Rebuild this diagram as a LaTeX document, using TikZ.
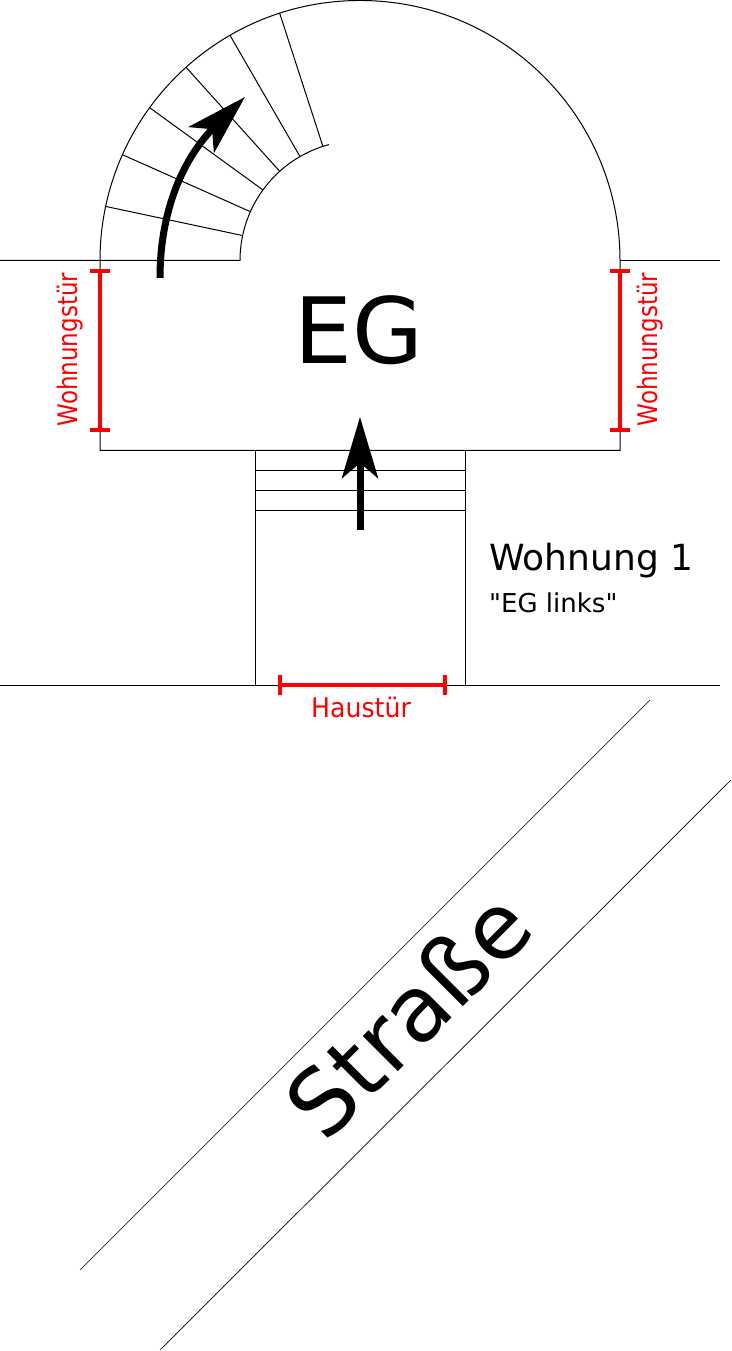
\documentclass[tikz,border=0pt]{standalone}
\usepackage{fontspec}
\setmainfont{DejaVu Sans}
\newfontfamily\geradefont{DejaVu Sans}
\usetikzlibrary{arrows.meta,calc}

\tikzset{
	wall/.style={line width=1pt,black},
	maszlinie/.style={line width=4pt,red,{Bar[width=20pt,line width=4pt]}-{Bar[width=20pt,line width=4pt]}},
	laufpfeil/.style={line width=7pt,black,-{Stealth[length=61pt,width=36pt,inset=15pt]}},
	masztext/.style={red,inner sep=0pt,font=\fontsize{23}{23}\selectfont},
	beschriftung/.style={black,inner sep=0pt}
}

\begin{document}
\begin{tikzpicture}[x=1pt,y=1pt]
		\useasboundingbox (0,0) rectangle (731,1351);
		
		% treppenhaus
		\coordinate (mitte) at (360,1090.5);
		\draw[wall] (0,1090.5) -- (240,1090.5) arc[start angle=180,end angle=105,radius=120pt];
		\draw[wall] (100,900.5) -- (100,1090.5) arc[start angle=180,end angle=0,radius=260pt] -- (620,900.5) -- cycle;
		\draw[wall] (620,1090.5) -- (720,1090.5);
		\foreach \a in {12,24,...,72}{
			\draw[wall] ($(mitte)+(180-\a:120)$) -- ($(mitte)+(180-\a:260)$);
		}
		
		% eingang
		\draw[wall] (255,900.5) -- (255,665.5);
		\draw[wall] (465,900.5) -- (465,665.5);
		\foreach \y in {880.5,860.5,840.5}{
			\draw[wall] (255,\y) -- (465,\y);
		}
		\draw[wall] (0,665.5) -- (720,665.5);
		
		% strasse
		\draw[line width=0.7pt] (80,81) -- (650,651);
		\draw[line width=0.7pt] (160,1) -- (731,571);
		
		\draw[laufpfeil] (160,1073) .. controls (160,1150) and (190,1200) .. (245,1254);
		\draw[laufpfeil] (360,821) -- (360,934);
		
		\draw[maszlinie] (100,1082) -- (100,919);
		\draw[maszlinie] (620,1082) -- (620,919);
		\draw[maszlinie] (277.5,665.5) -- (446.5,665.5);
		
		\node[beschriftung,anchor=base,font=\fontsize{91.5}{91.5}\selectfont] (eg) at (359,987) {EG};
		\node[beschriftung,anchor=base west,font=\fontsize{36}{36}\selectfont] (wohnung) at (489,780) {Wohnung 1};
		\node[beschriftung,anchor=base west,font=\geradefont\fontsize{26}{26}\selectfont] (lage) at (489,738) {"EG links"};
		\node[masztext,anchor=base,yscale=1.07,font=\fontsize{25.2}{25.2}\selectfont] (haustuer) at (361,633) {Haustür};
		\node[masztext,anchor=base,rotate=90,yscale=1.17] (tuerlinks) at (77.3,1001.3) {Wohnungstür};
		\node[masztext,anchor=base,rotate=90,yscale=1.17] (tuerrechts) at (657.3,1001.3) {Wohnungstür};
		\node[beschriftung,rotate=45,font=\fontsize{91}{91}\selectfont] (strasse) at (408,337) {Straße};
	\end{tikzpicture}
\end{document}
